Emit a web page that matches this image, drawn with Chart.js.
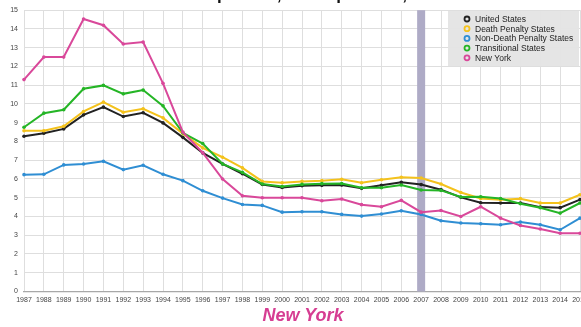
<!DOCTYPE html>
<html>
<head>
<meta charset="utf-8">
<script src="https://cdn.jsdelivr.net/npm/chart.js@4.4.1/dist/chart.umd.min.js"></script>
<style>
  html, body { margin: 0; padding: 0; background: #fff; overflow: hidden; width: 581px; height: 327px; }
  #wrap { position: absolute; left: 0; top: 0; width: 620px; height: 306px; }
  #topTitle { position: absolute; left: 0; width: 610px; top: -14px; text-align: center;
    font: bold 17px "Liberation Sans", Arial, sans-serif; color: #111; line-height: 17px; white-space: nowrap; }
  #bottomTitle { position: absolute; left: 0; width: 606px; top: 304px; text-align: center;
    font: italic bold 18px "Liberation Sans", Arial, sans-serif; color: #d63d92; line-height: 22px; }
</style>
</head>
<body>
<div id="wrap"><canvas id="c"></canvas></div>
<div id="topTitle">Murder Rate per 100,000 Population, 1987–2015</div>
<div id="bottomTitle">New York</div>
<script>
const years = ['1987','1988','1989','1990','1991','1992','1993','1994','1995','1996','1997','1998','1999','2000','2001','2002','2003','2004','2005','2006','2007','2008','2009','2010','2011','2012','2013','2014','2015'];
const unitedStates = [8.28,8.44,8.67,9.42,9.83,9.33,9.53,8.99,8.22,7.39,6.8,6.28,5.71,5.55,5.64,5.66,5.68,5.5,5.66,5.82,5.7,5.43,5.02,4.73,4.72,4.72,4.5,4.47,4.9];
const deathPenalty = [8.57,8.57,8.81,9.6,10.1,9.56,9.74,9.26,8.42,7.66,7.16,6.59,5.87,5.8,5.87,5.91,5.98,5.8,5.96,6.09,6.05,5.73,5.28,4.96,4.89,4.95,4.72,4.72,5.16];
const nonDeathPenalty = [6.23,6.25,6.75,6.8,6.94,6.5,6.73,6.25,5.91,5.37,4.98,4.64,4.59,4.23,4.25,4.25,4.11,4.02,4.13,4.3,4.11,3.77,3.65,3.61,3.56,3.7,3.56,3.29,3.91];
const transitional = [8.76,9.51,9.69,10.81,10.99,10.54,10.74,9.9,8.46,7.89,6.8,6.35,5.73,5.6,5.71,5.75,5.76,5.53,5.53,5.68,5.41,5.39,5.04,5.05,4.96,4.68,4.47,4.18,4.72];
const newYork = [11.3,12.5,12.5,14.53,14.2,13.2,13.3,11.1,8.5,7.4,6.0,5.1,5.0,5.0,5.0,4.84,4.93,4.63,4.52,4.86,4.23,4.32,4.0,4.52,3.91,3.52,3.33,3.11,3.11];
const seriesNames = ['United States','Death Penalty States','Non-Death Penalty States','Transitional States','New York'];
const seriesColors = ['#222222','#f4c21c','#2f8ed3','#25b526','#d9489a'];
const markedYear = '2007';

const seriesData = [unitedStates, deathPenalty, nonDeathPenalty, transitional, newYork];
const FONT = '"Liberation Sans", Arial, sans-serif';

const bandPlugin = {
  id: 'band',
  beforeDatasetsDraw(chart) {
    const { ctx, chartArea, scales } = chart;
    const x = scales.x.getPixelForValue(years.indexOf(markedYear));
    ctx.save();
    ctx.fillStyle = '#aeabc6';
    ctx.fillRect(x - 4, chartArea.top, 8, chartArea.bottom - chartArea.top);
    ctx.restore();
  }
};

const legendPlugin = {
  id: 'boxLegend',
  afterDraw(chart) {
    const { ctx } = chart;
    const bx = 448, by = 11, bw = 131, bh = 55;
    ctx.save();
    ctx.fillStyle = 'rgba(228,228,228,0.95)';
    ctx.fillRect(bx, by, bw, bh);
    ctx.font = '8.5px ' + FONT;
    ctx.textBaseline = 'middle';
    seriesNames.forEach((name, i) => {
      const y = 19 + i * 9.7;
      ctx.beginPath();
      ctx.arc(467, y, 2.5, 0, Math.PI * 2);
      ctx.lineWidth = 1.8;
      ctx.strokeStyle = seriesColors[i];
      ctx.stroke();
      ctx.fillStyle = '#222';
      ctx.fillText(name, 475, y + 0.5);
    });
    ctx.restore();
  }
};

new Chart(document.getElementById('c'), {
  type: 'line',
  data: {
    labels: years,
    datasets: seriesData.map((d, i) => ({
      label: seriesNames[i],
      data: d,
      borderColor: seriesColors[i],
      backgroundColor: seriesColors[i],
      borderWidth: 2,
      pointRadius: 1.8,
      pointBorderWidth: 0,
      tension: 0,
      fill: false,
      order: 4 - i
    }))
  },
  options: {
    responsive: true,
    maintainAspectRatio: false,
    animation: false,
    layout: { padding: { top: 10, right: 40, left: 0, bottom: 0 } },
    plugins: { legend: { display: false }, title: { display: false }, tooltip: { enabled: false } },
    scales: {
      x: {
        offset: false,
        grid: { color: '#dedede', lineWidth: 1, drawTicks: false },
        border: { display: true, color: '#a8a8a8', width: 1.2 },
        ticks: { font: { family: FONT, size: 7 }, color: '#444', padding: 4, maxRotation: 0, autoSkip: false },
        afterFit(scale) { scale.height = 14.5; }
      },
      y: {
        min: 0, max: 15,
        grid: { color: '#dedede', lineWidth: 1, drawTicks: false },
        border: { display: false },
        ticks: { stepSize: 1, font: { family: FONT, size: 7 }, color: '#444', padding: 6 },
        afterFit(scale) { scale.width = 24; }
      }
    }
  },
  plugins: [bandPlugin, legendPlugin]
});
</script>
</body>
</html>
